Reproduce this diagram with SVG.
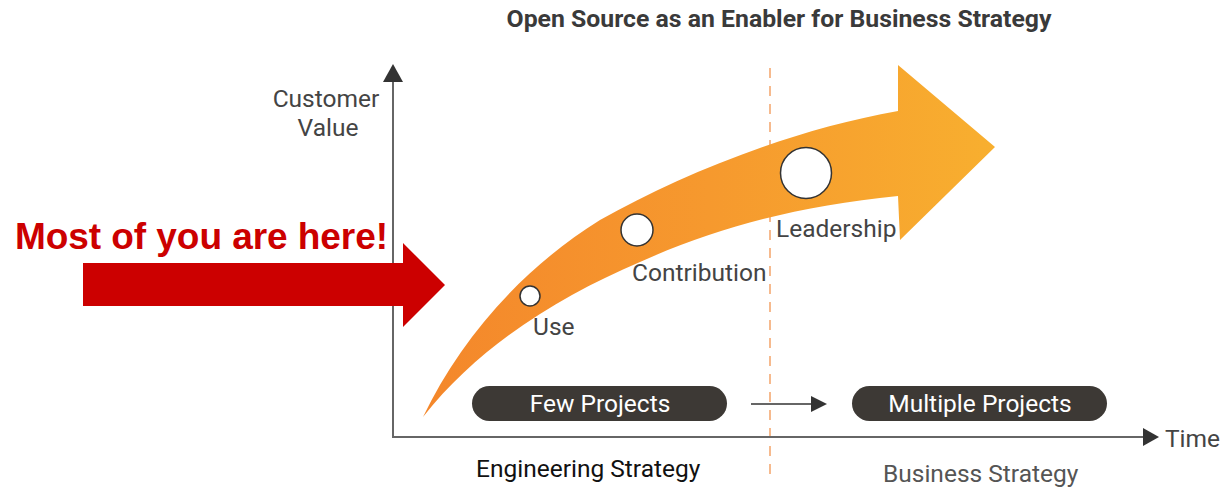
<svg xmlns="http://www.w3.org/2000/svg" width="1220" height="488" viewBox="0 0 1220 488">
<defs>
<linearGradient id="og" x1="423" y1="0" x2="995" y2="0" gradientUnits="userSpaceOnUse">
<stop offset="0" stop-color="#F4872B"/>
<stop offset="0.5" stop-color="#F6992E"/>
<stop offset="1" stop-color="#F8AF2F"/>
</linearGradient>
<style>
.lbl{font-family:Roboto,"Liberation Sans",sans-serif;font-size:24.5px;fill:#444}
.pill{fill:#3D3935}
.ptxt{font-family:Roboto,"Liberation Sans",sans-serif;font-size:24.5px;fill:#fff;text-anchor:middle}
.dot{fill:#fff;stroke:#333;stroke-width:1.5}
.axis{stroke:#666;stroke-width:2;fill:none}
.head{fill:#333}
</style>
</defs>
<rect width="1220" height="488" fill="#fff"/>
<text id="title" x="779" y="27" text-anchor="middle" style="font-family:Roboto,'Liberation Sans',sans-serif;font-size:24.8px;font-weight:bold;fill:#3a3a3a">Open Source as an Enabler for Business Strategy</text>

<g id="divider">
<line x1="770" y1="68" x2="770" y2="482" stroke="#F4A46A" stroke-width="1.5" stroke-dasharray="10 8"/>
</g>

<g id="axes">
<line class="axis" x1="393" y1="78" x2="393" y2="438"/>
<polygon class="head" points="393,64 383,82 403,82"/>
<line class="axis" x1="392" y1="437" x2="1146" y2="437"/>
<polygon class="head" points="1159,437 1143,428 1143,446"/>
<text class="lbl" x="1165" y="447">Time</text>
<text class="lbl" x="326" y="107" text-anchor="middle">Customer</text>
<text class="lbl" x="328" y="136" text-anchor="middle">Value</text>
</g>

<g id="growth-arrow">
<path fill="url(#og)" d="M423,417 C460,340 520,270 600,220 C680,175 790,130 898,111 L898,65 L995,147 L900,240 L898,196 C800,206 720,226 640,262 C560,296 480,345 423,417 Z"/>
</g>

<g id="node-use">
<circle class="dot" cx="530" cy="296" r="10"/>
<text class="lbl" x="533" y="335">Use</text>
</g>
<g id="node-contribution">
<circle class="dot" cx="637" cy="230" r="16"/>
<text class="lbl" x="632" y="281">Contribution</text>
</g>
<g id="node-leadership">
<circle class="dot" cx="806" cy="173" r="25.5"/>
<text class="lbl" x="776" y="237">Leadership</text>
</g>

<g id="you-are-here">
<text x="15" y="249" textLength="373" lengthAdjust="spacing" style="font-family:'Liberation Sans',Arial,sans-serif;font-size:37px;font-weight:bold;fill:#CC0000">Most of you are here!</text>
<polygon fill="#CC0000" points="83,263 403,263 403,243 445,285 403,327 403,306 83,306"/>
</g>

<g id="node-few">
<rect class="pill" x="472" y="386" width="255" height="35" rx="17.5"/>
<text class="ptxt" x="600" y="412">Few Projects</text>
</g>
<g id="connectors">
<line x1="751" y1="404" x2="814" y2="404" stroke="#333" stroke-width="1.5"/>
<polygon class="head" points="827,404 811,396 811,412"/>
</g>
<g id="node-multiple">
<rect class="pill" x="852" y="386" width="255" height="35" rx="17.5"/>
<text class="ptxt" x="980" y="412">Multiple Projects</text>
</g>

<g id="strategies">
<text class="lbl" x="476" y="477" style="fill:#111">Engineering Strategy</text>
<text class="lbl" x="883" y="482" style="fill:#555">Business Strategy</text>
</g>
</svg>
